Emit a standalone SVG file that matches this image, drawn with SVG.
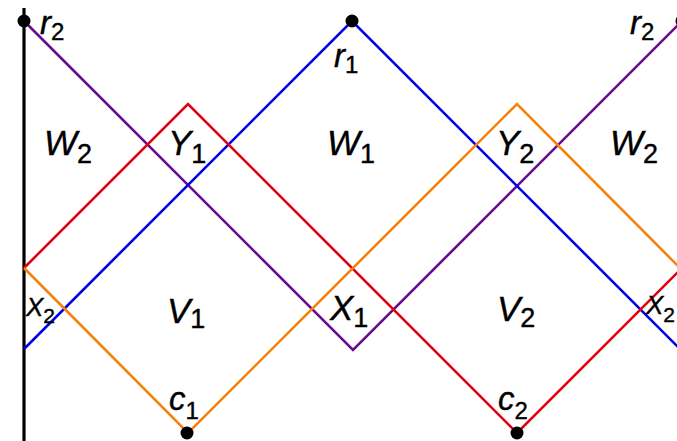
<svg xmlns="http://www.w3.org/2000/svg" width="677" height="441" viewBox="0 0 677 441">
<style>
.ln{fill:none;stroke-width:2.6;stroke-linejoin:miter}
.pur{stroke:#6a0a8c}
.blu{stroke:#0000e6}
.red{stroke:#e00010}
.org{stroke:#f5820f}
.axis{stroke:#000;stroke-width:3.2}
.dot{fill:#000}
text{font-family:"Liberation Sans",Arial,sans-serif;fill:#000;stroke:#000;stroke-width:0.4}
.big{font-size:35px;font-style:italic}
.mid{font-size:33px;font-style:italic}
.sml{font-size:26px;font-style:italic}
.s27{font-size:27px;font-style:normal}
.s24{font-size:24px;font-style:normal}
.s21{font-size:21px;font-style:normal}
</style>
<rect width="677" height="441" fill="#fff"/>
<g id="connectors">
<line class="axis" x1="24" y1="8" x2="24" y2="441"/>
<polyline class="ln pur" points="24,21 353,350 682,21"/>
<polyline class="ln blu" points="24,349 352,21 681,350"/>
<polyline class="ln red" points="24,268 188,104 517,433 681,269"/>
<polyline class="ln org" points="24,268 188,433 517,104 681,269"/>
</g>
<g id="r2-left"><circle class="dot" cx="24" cy="21" r="6.5"/><text class="mid" x="40" y="34">r<tspan class="s24" dy="6">2</tspan></text></g>
<g id="r1"><circle class="dot" cx="352" cy="21" r="6.5"/><text class="mid" x="334" y="67">r<tspan class="s24" dy="6">1</tspan></text></g>
<g id="r2-right"><circle class="dot" cx="682" cy="21" r="6.5"/><text class="mid" x="630" y="34">r<tspan class="s24" dy="6">2</tspan></text></g>
<g id="c1"><circle class="dot" cx="187" cy="433" r="6.5"/><text class="mid" x="169" y="410">c<tspan class="s24" dy="9">1</tspan></text></g>
<g id="c2"><circle class="dot" cx="517" cy="433" r="6.5"/><text class="mid" x="498" y="410">c<tspan class="s24" dy="9">2</tspan></text></g>
<g id="W2-left"><text class="big" x="44" y="155">W<tspan class="s27" dy="8">2</tspan></text></g>
<g id="Y1"><text class="big" x="168" y="155">Y<tspan class="s27" dy="8">1</tspan></text></g>
<g id="W1"><text class="big" x="327" y="155">W<tspan class="s27" dy="8">1</tspan></text></g>
<g id="Y2"><text class="big" x="496" y="155">Y<tspan class="s27" dy="8">2</tspan></text></g>
<g id="W2-right"><text class="big" x="610" y="155">W<tspan class="s27" dy="8">2</tspan></text></g>
<g id="X2-left"><text class="sml" x="26" y="316">X<tspan class="s21" dy="7">2</tspan></text></g>
<g id="V1"><text class="big" x="167" y="323">V<tspan class="s27" dy="5">1</tspan></text></g>
<g id="X1"><text class="big" x="330" y="320">X<tspan class="s27" dy="7">1</tspan></text></g>
<g id="V2"><text class="big" x="497" y="321">V<tspan class="s27" dy="6">2</tspan></text></g>
<g id="X2-right"><text class="sml" x="646" y="314">X<tspan class="s21" dy="8">2</tspan></text></g>
</svg>
